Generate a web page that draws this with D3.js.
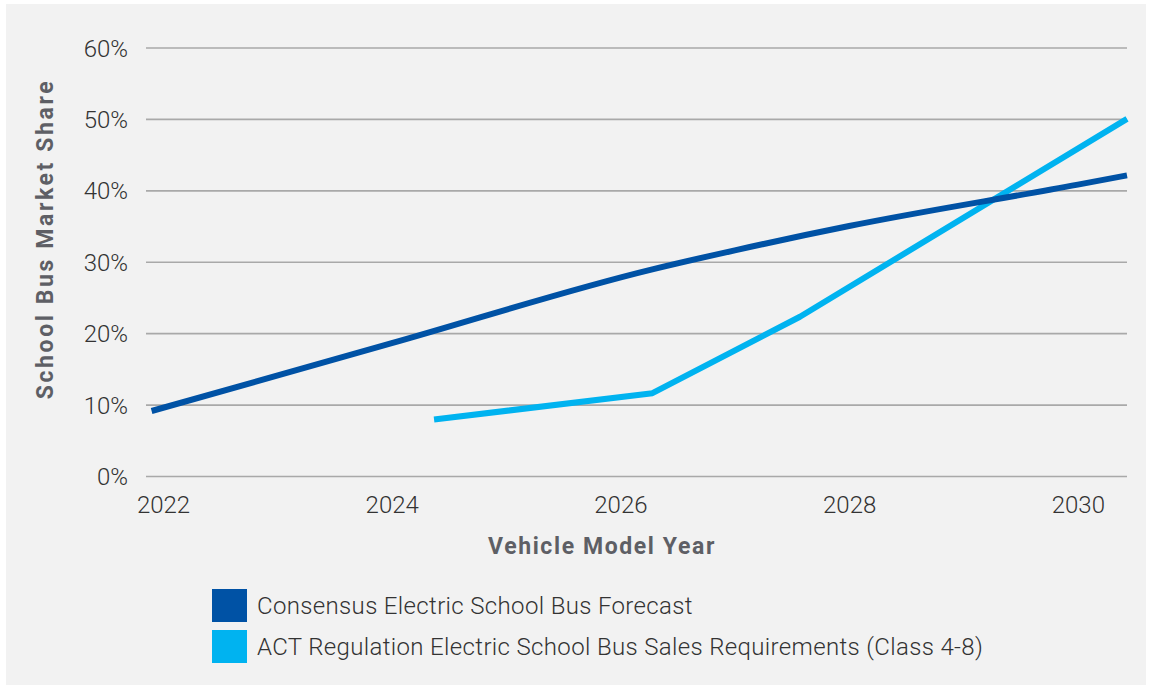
<!DOCTYPE html>
<html>
<head>
<meta charset="utf-8">
<script src="https://cdn.jsdelivr.net/npm/d3@7"></script>
<style>
  html, body { margin: 0; padding: 0; background: #ffffff; }
  svg { display: block; }
</style>
</head>
<body>
<svg id="chart" width="1150" height="689"></svg>
<script>
// Market share (%) by vehicle model year
const consensusYears  = [2021.9, 2024.0, 2026.27, 2027.0, 2028.0, 2030.0, 2030.43];
const consensusShare  = [9.1, 18.6, 28.9, 31.6, 35.0, 40.8, 42.1];

const actYears  = [2024.37, 2026.28, 2027.57, 2030.43];
const actShare  = [7.9, 11.6, 22.3, 50.0];

const yearTicks  = [2022, 2024, 2026, 2028, 2030];
const shareTicks = [0, 10, 20, 30, 40, 50, 60];

const seriesNames = [
  "Consensus Electric School Bus Forecast",
  "ACT Regulation Electric School Bus Sales Requirements (Class 4-8)"
];
const seriesColors = ["#0052a5", "#00b3f0"];

const svg = d3.select("#chart");

// panel background
svg.append("rect")
  .attr("x", 6).attr("y", 4)
  .attr("width", 1140).attr("height", 681)
  .attr("fill", "#f2f2f2");

const plot = { left: 146, right: 1127, top: 47.5, bottom: 476 };

const x = d3.scaleLinear()
  .domain([2021.851, 2030.43])
  .range([plot.left, plot.right]);

const y = d3.scaleLinear()
  .domain([0, 60])
  .range([plot.bottom, plot.top]);

// horizontal gridlines + y labels
const yAxis = d3.axisLeft(y)
  .tickValues(shareTicks)
  .tickFormat(d => d + "%")
  .tickSize(-(plot.right - plot.left))
  .tickPadding(18);

const gy = svg.append("g")
  .attr("transform", `translate(${plot.left},0)`)
  .call(yAxis);
gy.select(".domain").remove();
gy.selectAll(".tick line")
  .attr("stroke", "#a9a9a9")
  .attr("stroke-width", 1.6);
gy.selectAll(".tick text")
  .attr("fill", "#333333")
  .attr("dy", "0.36em")
  .style("font-family", "Roboto, sans-serif")
  .style("font-weight", 300)
  .style("font-size", "24px");

// x labels
const xAxis = d3.axisBottom(x)
  .tickValues(yearTicks)
  .tickFormat(d3.format("d"))
  .tickSize(0)
  .tickPadding(0);

const gx = svg.append("g")
  .attr("transform", `translate(0,${plot.bottom})`)
  .call(xAxis);
gx.select(".domain").remove();
gx.selectAll(".tick text")
  .attr("y", 37)
  .attr("dy", null)
  .attr("fill", "#333333")
  .style("font-family", "Roboto, sans-serif")
  .style("font-weight", 300)
  .style("font-size", "24px");

// series lines: the forecast is a smooth curve, the regulation schedule is piecewise
const curves = [d3.curveMonotoneX, d3.curveLinear];

const series = [
  d3.zip(consensusYears, consensusShare),
  d3.zip(actYears, actShare)
];

[1, 0].forEach(i => {
  const line = d3.line()
    .x(d => x(d[0]))
    .y(d => y(d[1]))
    .curve(curves[i]);
  svg.append("path")
    .datum(series[i])
    .attr("d", line)
    .attr("fill", "none")
    .attr("stroke", seriesColors[i])
    .attr("stroke-width", 6)
    .attr("stroke-linejoin", "round");
});

// axis titles
svg.append("text")
  .attr("x", 602).attr("y", 554)
  .attr("text-anchor", "middle")
  .attr("fill", "#5e5f65")
  .style("font-family", "Roboto, sans-serif")
  .style("font-weight", 700)
  .style("font-size", "23px")
  .style("letter-spacing", "1.6px")
  .text("Vehicle Model Year");

svg.append("text")
  .attr("transform", "translate(53,239) rotate(-90)")
  .attr("text-anchor", "middle")
  .attr("fill", "#5e5f65")
  .style("font-family", "Roboto, sans-serif")
  .style("font-weight", 700)
  .style("font-size", "23px")
  .style("letter-spacing", "2.6px")
  .text("School Bus Market Share");

// legend
const legend = svg.append("g").attr("transform", "translate(212,589)");
seriesNames.forEach((name, i) => {
  const row = legend.append("g").attr("transform", `translate(0,${i * 41})`);
  row.append("rect")
    .attr("width", 35).attr("height", 33)
    .attr("fill", seriesColors[i]);
  row.append("text")
    .attr("x", 45).attr("y", 25)
    .attr("fill", "#333333")
    .style("font-family", "Roboto, sans-serif")
    .style("font-weight", 300)
    .style("font-size", "24px")
    .style("letter-spacing", "0.35px")
    .text(name);
});
</script>
</body>
</html>
